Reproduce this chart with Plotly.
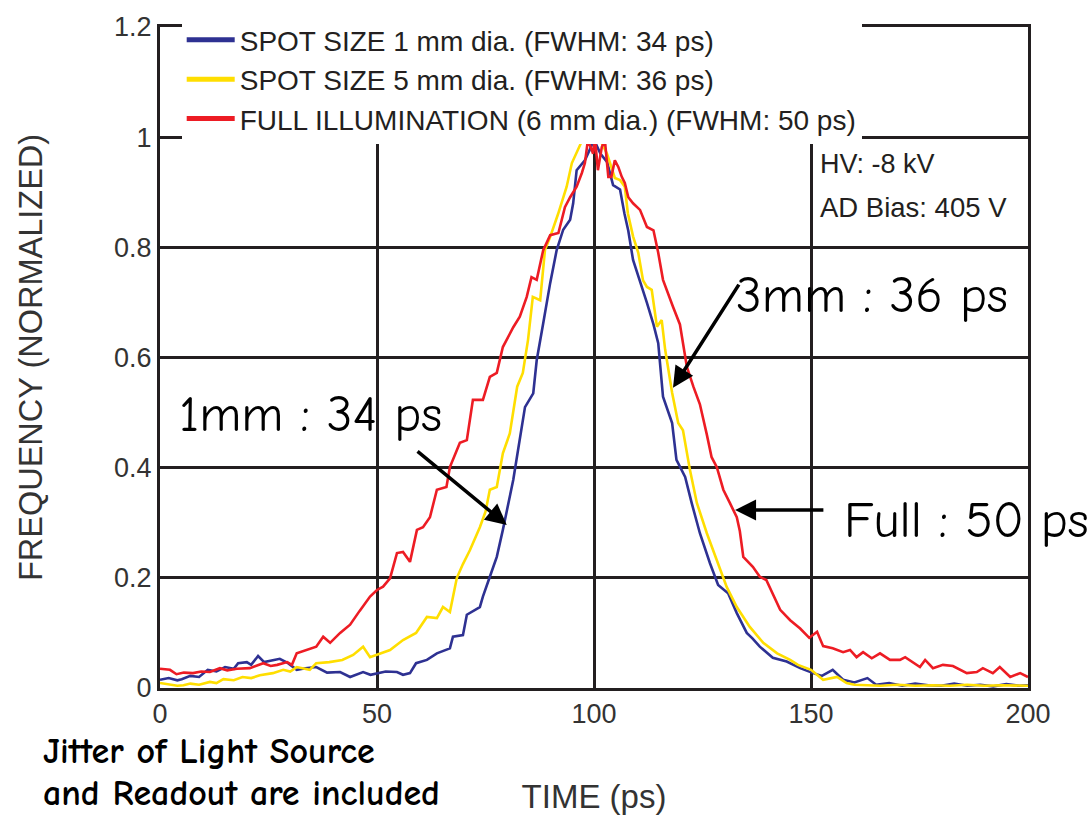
import plotly.graph_objects as go

# ---------------- data ----------------
blue_t = [0, 2, 4, 5, 7, 9, 11, 13, 15, 17, 18, 20, 21, 22.6, 24, 26, 27.6, 29.5, 31.5, 33.5,
          36, 38.5, 41.5, 43.8, 46.8, 48.5, 50, 52, 54.6, 56, 57.6, 59, 61.5, 63.8, 66.8, 67.5,
          69.8, 70.7, 73.7, 74.4, 76, 77.6, 79, 80.2, 81.4, 82.5, 84.1, 86, 86.8, 88.3, 89.9,
          91.4, 92.9, 94.5, 95.2, 96, 97.9, 99, 100, 101.5, 103, 104.4, 106, 107, 107.9, 109,
          110.6, 112.2, 113.7, 114.8, 115.9, 118, 119, 121, 122.5, 124.4, 126.7, 128.6, 130.9,
          132.9, 135.2, 136.5, 138.2, 141.2, 144.4, 147.5, 150.5, 152.5, 155, 157.4, 160, 163,
          165, 168, 171, 174, 177, 180, 183, 186, 189, 192, 195, 198, 200]
blue_y = [0.015, 0.018, 0.014, 0.016, 0.022, 0.02, 0.033, 0.03, 0.038, 0.035, 0.045, 0.047,
          0.042, 0.058, 0.047, 0.05, 0.053, 0.045, 0.033, 0.036, 0.038, 0.028, 0.029, 0.02,
          0.029, 0.024, 0.027, 0.03, 0.029, 0.024, 0.027, 0.045, 0.051, 0.063, 0.072, 0.093,
          0.096, 0.133, 0.147, 0.166, 0.202, 0.238, 0.287, 0.33, 0.378, 0.432, 0.51, 0.535,
          0.595, 0.662, 0.735, 0.795, 0.832, 0.85, 0.88, 0.94, 0.958, 0.977, 0.995, 0.97,
          0.955, 0.913, 0.905, 0.862, 0.83, 0.777, 0.74, 0.699, 0.66, 0.626, 0.529, 0.481,
          0.414, 0.383, 0.336, 0.281, 0.227, 0.187, 0.172, 0.136, 0.1, 0.09, 0.075, 0.055,
          0.048, 0.036, 0.027, 0.022, 0.033, 0.015, 0.01, 0.018, 0.006, 0.009, 0.004, 0.008,
          0.005, 0.004, 0.008, 0.004, 0.006, 0.003, 0.007, 0.004, 0.005]

yellow_t = [0, 2, 4, 5.4, 7, 9, 11.5, 13, 14.6, 17, 19, 21, 23, 26, 28.4, 30, 31.5, 34.5, 36,
            39, 42, 44.5, 46.8, 48.4, 51.4, 53, 56, 59, 61.5, 63.8, 65.2, 66.8, 68.4, 69.8,
            71.4, 73.7, 75, 76, 77.6, 79, 80.6, 82.3, 83.6, 84.8, 85.9, 87.6, 88.7, 89.9, 91.7,
            93.7, 94.9, 96.3, 97.5, 98.6, 100, 101.4, 103, 104.8, 106, 107.1, 107.8, 109, 110.2,
            111.3, 112.2, 113.3, 114.5, 115.6, 116.4, 118, 119.4, 120.5, 122.1, 123.7, 126,
            128.3, 130.6, 132.9, 135.9, 139, 142.2, 145.2, 147, 150, 152.8, 156, 158.2, 160,
            163, 166, 170, 174, 178, 182, 186, 190, 194, 198, 200]
yellow_y = [0.009, 0.006, 0.004, 0.005, 0.008, 0.006, 0.011, 0.009, 0.016, 0.014, 0.02, 0.018,
            0.023, 0.027, 0.033, 0.03, 0.038, 0.033, 0.045, 0.047, 0.051, 0.06, 0.075, 0.056,
            0.065, 0.069, 0.087, 0.1, 0.129, 0.127, 0.147, 0.138, 0.2, 0.225, 0.25, 0.292, 0.32,
            0.36, 0.365, 0.426, 0.462, 0.547, 0.572, 0.632, 0.71, 0.704, 0.795, 0.819, 0.86,
            0.91, 0.953, 0.977, 0.998, 1.0, 0.99, 0.995, 0.97, 0.926, 0.922, 0.91, 0.862, 0.82,
            0.79, 0.74, 0.728, 0.723, 0.656, 0.668, 0.614, 0.536, 0.481, 0.468, 0.396, 0.336,
            0.281, 0.232, 0.183, 0.147, 0.111, 0.082, 0.063, 0.051, 0.042, 0.033, 0.015, 0.02,
            0.009, 0.006, 0.005, 0.004, 0.006, 0.004, 0.005, 0.004, 0.006, 0.004, 0.005, 0.004,
            0.004]

red_t = [0, 2.3, 3.8, 5.5, 7.6, 9.5, 11.5, 13.8, 15.5, 17.7, 20.7, 22, 23.8, 25.5, 27, 29.3,
         30.4, 31.5, 33.8, 36, 37.6, 39.2, 41.5, 43.8, 46, 48.4, 50, 51.4, 53, 54.6, 56, 57.6,
         59.2, 60.6, 62.2, 63.8, 66, 66.8, 69.1, 70.7, 72.1, 74.4, 76, 77.6, 79, 81.4, 82.9,
         84.5, 85.6, 86.8, 88.3, 89.9, 91.8, 93.3, 94.5, 96, 97.2, 97.9, 98.6, 99.8, 100.2,
         100.9, 101.8, 102.5, 103.3, 104, 104.8, 105.6, 106.4, 107.1, 107.9, 109, 110.6, 112.2,
         113.7, 114.8, 115.9, 117, 118.2, 119.8, 121.4, 122.9, 124.4, 126, 127.1, 128.3, 129.8,
         131.3, 132.9, 133.6, 134.4, 136.6, 138.2, 139.7, 141.2, 142.9, 145.2, 147.5, 149.6,
         151.4, 152.8, 155, 157.4, 159, 160.5, 162, 164, 165.9, 168.2, 170.5, 171.7, 173.5,
         175.1, 176.3, 178.1, 180.4, 182.7, 185.9, 188.2, 189.6, 191.9, 193.5, 195.9, 198.2, 200]
red_y = [0.035, 0.033, 0.025, 0.028, 0.027, 0.03, 0.029, 0.036, 0.032, 0.035, 0.036, 0.04,
         0.045, 0.04, 0.042, 0.047, 0.042, 0.063, 0.069, 0.075, 0.093, 0.082, 0.1, 0.115, 0.14,
         0.166, 0.178, 0.184, 0.199, 0.245, 0.247, 0.229, 0.287, 0.292, 0.31, 0.36, 0.365,
         0.401, 0.445, 0.45, 0.523, 0.523, 0.565, 0.572, 0.619, 0.655, 0.674, 0.71, 0.746,
         0.741, 0.795, 0.822, 0.826, 0.873, 0.891, 0.91, 0.935, 0.953, 0.995, 0.97, 1.0, 0.94,
         0.982, 0.995, 0.928, 0.928, 0.958, 0.946, 0.928, 0.917, 0.891, 0.88, 0.868, 0.837,
         0.831, 0.79, 0.741, 0.717, 0.692, 0.66, 0.583, 0.547, 0.515, 0.46, 0.419, 0.401, 0.36,
         0.336, 0.31, 0.285, 0.238, 0.22, 0.202, 0.196, 0.172, 0.142, 0.123, 0.108, 0.091,
         0.102, 0.076, 0.072, 0.065, 0.069, 0.056, 0.065, 0.054, 0.063, 0.051, 0.051, 0.056,
         0.047, 0.038, 0.051, 0.036, 0.042, 0.04, 0.027, 0.029, 0.036, 0.027, 0.038, 0.02,
         0.027, 0.02]

series_names = ["SPOT SIZE 1 mm dia. (FWHM: 34 ps)",
                "SPOT SIZE 5 mm dia. (FWHM: 36 ps)",
                "FULL ILLUMINATION (6 mm dia.) (FWHM: 50 ps)"]
series_colors = ["#2e3192", "#ffde00", "#ed1c24"]

x_ticks = [0, 50, 100, 150, 200]
y_ticks = [0, 0.2, 0.4, 0.6, 0.8, 1.0, 1.2]
y_tick_text = ["0", "0.2", "0.4", "0.6", "0.8", "1", "1.2"]

SANS = "Liberation Sans, Arial, sans-serif"
HAND = "Comic Sans MS, Comic Neue, Open Sans, sans-serif"
INK = "#231f20"

fig = go.Figure()
for t, y, c in zip([blue_t, yellow_t, red_t], [blue_y, yellow_y, red_y], series_colors):
    fig.add_trace(go.Scatter(x=t, y=y, mode="lines", line=dict(color=c, width=2.6),
                             showlegend=False, hoverinfo="skip"))
# legend keys (thicker lines, as in the reference)
for name, c in zip(series_names, series_colors):
    fig.add_trace(go.Scatter(x=[None], y=[None], mode="lines", name=name,
                             line=dict(color=c, width=5)))

fig.update_layout(
    width=1091, height=815,
    margin=dict(l=160, r=63, t=27, b=127),
    paper_bgcolor="white", plot_bgcolor="white",
    font=dict(family=SANS, color="#333333", size=26),
    showlegend=True,
    legend=dict(x=0.025, y=1.018, xanchor="left", yanchor="top",
                bgcolor="white", borderwidth=0,
                font=dict(family=SANS, size=28, color="#231f20"),
                itemwidth=48, tracegroupgap=0),
)
fig.update_xaxes(range=[0, 200], tickvals=x_ticks, showgrid=True, gridcolor=INK, gridwidth=3,
                 showline=True, linecolor=INK, linewidth=3, mirror=True, zeroline=False,
                 ticks="", automargin=False,
                 tickfont=dict(family=SANS, size=27, color="#333333"),
                 title=dict(text="TIME (ps)", font=dict(family=SANS, size=33, color="#333333"),
                            standoff=58))
fig.update_yaxes(range=[0, 1.2], tickvals=y_ticks, ticktext=y_tick_text, showgrid=True,
                 gridcolor=INK, gridwidth=3, showline=True, linecolor=INK, linewidth=3,
                 mirror=True, zeroline=False, ticks="", automargin=False,
                 tickfont=dict(family=SANS, size=27, color="#333333"),
                 title=dict(text="FREQUENCY (NORMALIZED)",
                            font=dict(family=SANS, size=32.5, color="#333333"), standoff=62))

# instrument settings
fig.add_annotation(x=151.6, y=0.951, xref="x", yref="y", xanchor="left", yanchor="middle",
                   text="HV: -8 kV", showarrow=False,
                   font=dict(family=SANS, size=27, color="#231f20"))
fig.add_annotation(x=151.6, y=0.873, xref="x", yref="y", xanchor="left", yanchor="middle",
                   text="AD Bias: 405 V", showarrow=False,
                   font=dict(family=SANS, size=27.5, color="#231f20"))

# hand-written labels
hand_font = dict(family=HAND, size=51, color="black")
fig.add_annotation(x=34.6, y=0.496, xref="x", yref="y", text="1mm : 34 ps", showarrow=False,
                   font=hand_font)
fig.add_annotation(x=164, y=0.713, xref="x", yref="y", text="3mm : 36 ps", showarrow=False,
                   font=hand_font)
fig.add_annotation(x=185.8, y=0.305, xref="x", yref="y", text="Full : 50 ps", showarrow=False,
                   font=hand_font)

# arrows
arrow_style = dict(showarrow=True, arrowhead=2, arrowsize=1.2, arrowwidth=3.5,
                   arrowcolor="black", xref="x", yref="y", axref="x", ayref="y", text="")
fig.add_annotation(x=79.9, y=0.296, ax=59.0, ay=0.432, **arrow_style)
fig.add_annotation(x=118.2, y=0.545, ax=133.6, ay=0.735, **arrow_style)
fig.add_annotation(x=132.5, y=0.323, ax=153.2, ay=0.323, **arrow_style)

# footnote
foot_font = dict(family=HAND, size=36, color="black", weight=900)
fig.add_annotation(x=-0.136, y=-0.0968, xref="paper", yref="paper", xanchor="left",
                   yanchor="middle", showarrow=False, borderpad=0,
                   text="<b>Jitter of Light Source</b>", font=foot_font)
fig.add_annotation(x=-0.136, y=-0.1915, xref="paper", yref="paper", xanchor="left",
                   yanchor="bottom", showarrow=False, borderpad=0,
                   text="<b>and Readout are included</b>", font=foot_font)

fig.write_html("out.html")
